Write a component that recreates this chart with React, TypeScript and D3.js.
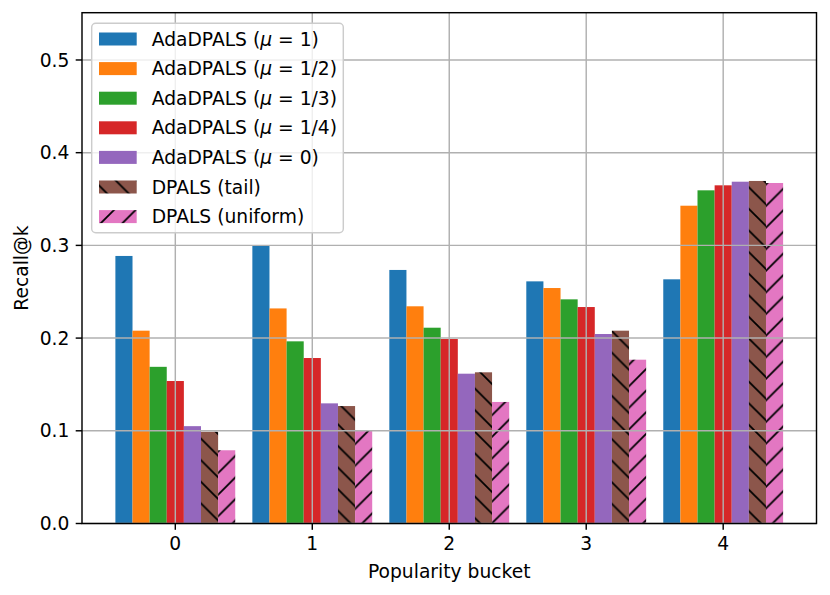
import * as d3 from "d3";

const buckets = [0, 1, 2, 3, 4];

const seriesNames = [
  "AdaDPALS (μ = 1)",
  "AdaDPALS (μ = 1/2)",
  "AdaDPALS (μ = 1/3)",
  "AdaDPALS (μ = 1/4)",
  "AdaDPALS (μ = 0)",
  "DPALS (tail)",
  "DPALS (uniform)",
];

const muOne = [0.2886, 0.2994, 0.2735, 0.2612, 0.2634];
const muHalf = [0.208, 0.232, 0.2343, 0.254, 0.3428];
const muThird = [0.169, 0.1965, 0.2112, 0.2418, 0.3594];
const muQuarter = [0.1537, 0.1785, 0.199, 0.2335, 0.3648];
const muZero = [0.105, 0.1296, 0.1616, 0.2044, 0.3687];
const dpalsTail = [0.099, 0.1267, 0.1631, 0.208, 0.3695];
const dpalsUniform = [0.079, 0.1005, 0.1311, 0.1767, 0.3673];

const seriesValues = [muOne, muHalf, muThird, muQuarter, muZero, dpalsTail, dpalsUniform];

const yTicks = [0, 0.1, 0.2, 0.3, 0.4, 0.5];

const colors = ["#1f77b4", "#ff7f0e", "#2ca02c", "#d62728", "#9467bd", "#8c564b", "#e377c2"];
const hatches = [null, null, null, null, null, "back", "fwd"];

const font = "'DejaVu Sans', sans-serif";
const barWidth = 0.125;
const fs = 18.7;

function Label({ name }: { name: string }) {
  const idx = name.indexOf("μ");
  if (idx < 0) return <>{name}</>;
  return (
    <>
      {name.slice(0, idx)}
      <tspan fontStyle="italic">μ</tspan>
      {name.slice(idx + 1)}
    </>
  );
}

export default function App() {
  const width = 830;
  const height = 595;
  const x = d3.scaleLinear().domain([-0.68125, 4.68125]).range([82, 816.5]);
  const y = d3.scaleLinear().domain([0, 0.551]).range([523.5, 12.7]);
  const [x0, x1] = x.range();
  const [y0, y1] = y.range();
  const P = 21.6;

  const fillFor = (i: number) =>
    hatches[i] === "back" ? "url(#hatchBack)" : hatches[i] === "fwd" ? "url(#hatchFwd)" : colors[i];

  return (
    <div style={{ position: "fixed", left: 0, top: 0 }}>
      <svg width={width} height={height} style={{ display: "block", background: "#fff" }} fontFamily={font}>
        <defs>
          <pattern id="hatchBack" patternUnits="userSpaceOnUse" width={P} height={P}>
            <rect width={P} height={P} fill={colors[5]} />
            <path
              d={`M${-P / 2},${-P / 2}L${P * 1.5},${P * 1.5}M${-P / 2},${P / 2}L${P / 2},${P * 1.5}M${P / 2},${-P / 2}L${P * 1.5},${P / 2}`}
              stroke="#000"
              strokeWidth={1.8}
            />
          </pattern>
          <pattern id="hatchFwd" patternUnits="userSpaceOnUse" width={P} height={P}>
            <rect width={P} height={P} fill={colors[6]} />
            <path
              d={`M${-P / 2},${P * 1.5}L${P * 1.5},${-P / 2}M${-P / 2},${P / 2}L${P / 2},${-P / 2}M${P / 2},${P * 1.5}L${P * 1.5},${P / 2}`}
              stroke="#000"
              strokeWidth={1.8}
            />
          </pattern>
          <clipPath id="plotClip">
            <rect x={x0} y={y1} width={x1 - x0} height={y0 - y1} />
          </clipPath>
        </defs>

        {/* bars */}
        <g clipPath="url(#plotClip)">
          {seriesValues.map((vals, i) =>
            vals.map((v, j) => {
              const left = x(buckets[j] + (i - 3) * barWidth - barWidth / 2);
              const right = x(buckets[j] + (i - 3) * barWidth + barWidth / 2);
              return (
                <rect
                  key={`${i}-${j}`}
                  x={left}
                  y={y(v)}
                  width={right - left}
                  height={y(0) - y(v)}
                  fill={fillFor(i)}
                />
              );
            })
          )}
        </g>

        {/* grid on top of bars */}
        <g stroke="#b0b0b0" strokeWidth={1.44}>
          {yTicks.map((t) => (
            <line key={t} x1={x0} x2={x1} y1={y(t)} y2={y(t)} />
          ))}
          {buckets.map((b) => (
            <line key={b} x1={x(b)} x2={x(b)} y1={y0} y2={y1} />
          ))}
        </g>

        {/* spines */}
        <rect x={x0} y={y1} width={x1 - x0} height={y0 - y1} fill="none" stroke="#000" strokeWidth={1.44} />

        {/* ticks and labels */}
        <g fontSize={fs} fill="#000">
          {yTicks.map((t) => (
            <g key={t}>
              <line x1={x0 - 6.3} x2={x0} y1={y(t)} y2={y(t)} stroke="#000" strokeWidth={1.44} />
              <text x={x0 - 12.6} y={y(t)} dy="0.35em" textAnchor="end">
                {d3.format(".1f")(t)}
              </text>
            </g>
          ))}
          {buckets.map((b) => (
            <g key={b}>
              <line x1={x(b)} x2={x(b)} y1={y0} y2={y0 + 6.3} stroke="#000" strokeWidth={1.44} />
              <text x={x(b)} y={y0 + 12.6} dy="0.76em" textAnchor="middle">
                {b}
              </text>
            </g>
          ))}
          <text x={(x0 + x1) / 2} y={578} textAnchor="middle">
            Popularity bucket
          </text>
          <text transform={`translate(28,${(y0 + y1) / 2}) rotate(-90)`} textAnchor="middle">
            Recall@k
          </text>
        </g>

        {/* legend */}
        <g>
          <rect
            x={91.7}
            y={23.3}
            width={251.6}
            height={209.4}
            rx={4}
            fill="#fff"
            fillOpacity={0.8}
            stroke="#cccccc"
            strokeWidth={1.44}
          />
          {seriesNames.map((name, i) => {
            const cy = 39 + i * 29.6;
            return (
              <g key={name}>
                <rect x={99} y={cy - 6.5} width={37.7} height={13} fill={fillFor(i)} />
                <text x={151.7} y={cy} dy="0.35em" fontSize={fs} fill="#000">
                  <Label name={name} />
                </text>
              </g>
            );
          })}
        </g>
      </svg>
    </div>
  );
}
